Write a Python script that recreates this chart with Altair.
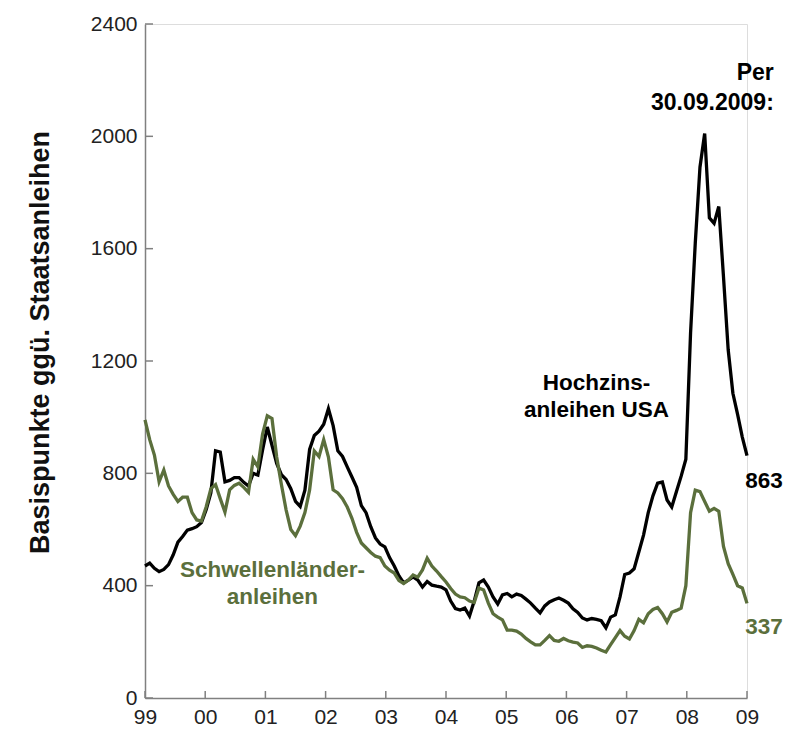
import altair as alt
import pandas as pd

# ---- data (monthly, Jan 1999 .. Sep 2009), basis points over government bonds ----
year_labels = ["99", "00", "01", "02", "03", "04", "05", "06", "07", "08", "09"]
y_ticks = [0, 400, 800, 1200, 1600, 2000, 2400]

hy_usa = [
    470, 480, 462, 450, 458, 475, 510, 555, 575, 598, 603, 610,
    625, 670, 730, 880, 876, 770, 775, 785, 785, 768, 755, 800,
    794, 883, 965, 900, 835, 795, 778, 745, 700, 682, 740, 885,
    935, 950, 975, 1030, 970, 880, 860, 823, 787, 750, 685, 660,
    610, 570, 548, 538, 500, 470, 435, 410, 420, 431, 420, 395,
    415, 402, 398, 395, 385, 345, 318, 313, 320, 292, 345, 410,
    420, 395, 360, 335, 367, 372, 360, 370, 365, 352, 338, 320,
    303, 328, 342, 350, 356, 348, 338, 318, 305, 285, 278, 283,
    280, 275, 250, 288, 296, 360, 440, 445, 460, 520, 580, 660,
    720, 765, 769, 705, 680, 735, 790, 850, 1300, 1620, 1890, 2010,
    1710, 1690, 1750, 1500, 1240, 1085, 1010, 929, 863,
]
em = [
    990, 920, 865, 770, 812, 755, 725, 700, 715, 715, 660, 634,
    630, 680, 745, 760, 710, 662, 741, 757, 765, 750, 732, 850,
    823, 940, 1005, 995, 858, 760, 670, 600, 578, 612, 660, 741,
    880, 860, 920, 858, 741, 730, 710, 680, 640, 590, 552, 535,
    518, 505, 500, 470, 455, 445, 418, 408, 420, 438, 430, 456,
    498, 470, 452, 432, 413, 390, 370, 360, 357, 345, 340, 392,
    385, 338, 300, 288, 278, 242, 242, 238, 228, 212, 200, 189,
    189, 205, 222, 205, 202, 212, 204, 199, 196, 180, 186, 184,
    178, 170, 164, 190, 215, 240, 220, 210, 240, 280, 268, 300,
    315, 322, 300, 271, 305, 312, 320, 400, 660, 740, 735, 700,
    665, 675, 665, 540, 478, 440, 400, 392, 337,
]

series_names = ["Hochzinsanleihen USA", "Schwellenländeranleihen"]
series_colors = ["#000000", "#5b6f3c"]

ann_text = ["Per", "30.09.2009:", "Hochzins-", "anleihen USA", "863",
            "Schwellenländer-", "anleihen", "337"]
ann_x = [133.7, 133.7, 96.0, 96.0, 131.6, 27.1, 27.1, 131.6]
ann_y = [2226, 2119, 1122, 1026, 773, 456, 360, 253]
ann_series = [series_names[0]] * 5 + [series_names[1]] * 3
ann_align = ["right", "right", "center", "center", "center", "center", "center", "center"]

# ---- tables ----
n = len(hy_usa)
x_end = n - 1
tick_pos = [i * x_end / (len(year_labels) - 1) for i in range(len(year_labels))]

df = pd.DataFrame({
    "m": list(range(n)) * 2,
    "v": hy_usa + em,
    "s": [series_names[0]] * n + [series_names[1]] * n,
})
ann = pd.DataFrame({"t": ann_text, "x": ann_x, "y": ann_y, "s": ann_series, "a": ann_align})
xt = pd.DataFrame({"x": tick_pos})
yt = pd.DataFrame({"y": y_ticks})

FONT = "Liberation Sans"
label_js = "[" + ",".join("'%s'" % l for l in year_labels) + "]"
step = x_end / (len(year_labels) - 1)

xscale = alt.Scale(domain=[0, x_end], nice=False, zero=False)
yscale = alt.Scale(domain=[0, 2400], nice=False)
cscale = alt.Scale(domain=series_names, range=series_colors)

x_axis = alt.Axis(
    values=tick_pos, labelExpr=f"{label_js}[round(datum.value / {step})]",
    title=None, grid=False, ticks=False, labelPadding=8,
    labelFontSize=21, labelFont=FONT, labelColor="#222222",
    domainColor="#808080", domainWidth=1.5, labelFlush=False,
)
y_axis = alt.Axis(
    values=y_ticks, format="d", title="Basispunkte ggü. Staatsanleihen", grid=False, ticks=False,
    labelPadding=8, labelFontSize=21, labelFont=FONT, labelColor="#222222",
    domainColor="#808080", domainWidth=1.5,
    titleFont=FONT, titleFontSize=27, titleFontWeight="bold", titleColor="#111111",
    titleAngle=270, titleX=-105, titleY=318, titleAlign="center", titleBaseline="middle",
)

lines = alt.Chart(df).mark_line(strokeWidth=3.3, clip=False).encode(
    x=alt.X("m:Q", scale=xscale, axis=x_axis),
    y=alt.Y("v:Q", scale=yscale, axis=y_axis),
    color=alt.Color("s:N", scale=cscale, legend=None),
    detail="s:N",
)

xticks = alt.Chart(xt).mark_rule(color="#808080", strokeWidth=1.5).encode(
    x=alt.X("x:Q", scale=xscale),
    y=alt.Y("y0:Q", scale=yscale),
    y2="y1:Q",
).transform_calculate(y0="0", y1="25")

yticks = alt.Chart(yt).mark_rule(color="#808080", strokeWidth=1.5).encode(
    y=alt.Y("y:Q", scale=yscale),
    x=alt.X("x0:Q", scale=xscale),
    x2="x1:Q",
).transform_calculate(x0="0", x1="1.7")

base_txt = alt.Chart(ann)
txt_right = base_txt.transform_filter("datum.a == 'right'").mark_text(
    font=FONT, fontSize=23, fontWeight="bold", align="right", baseline="middle", clip=False
).encode(
    x=alt.X("x:Q", scale=xscale), y=alt.Y("y:Q", scale=yscale), text="t:N",
    color=alt.Color("s:N", scale=cscale, legend=None),
)
txt_center = base_txt.transform_filter("datum.a == 'center'").mark_text(
    font=FONT, fontSize=22.5, fontWeight="bold", align="center", baseline="middle", clip=False
).encode(
    x=alt.X("x:Q", scale=xscale), y=alt.Y("y:Q", scale=yscale), text="t:N",
    color=alt.Color("s:N", scale=cscale, legend=None),
)

chart = alt.layer(xticks, yticks, lines, txt_right, txt_center).properties(
    width=602, height=674,
    autosize=alt.AutoSizeParams(type="none"),
    padding={"left": 137, "top": 16, "right": 45, "bottom": 32},
).configure_view(stroke=None).configure(background="white")

chart.save("out.html", embed_options={"renderer": "svg", "actions": False})
